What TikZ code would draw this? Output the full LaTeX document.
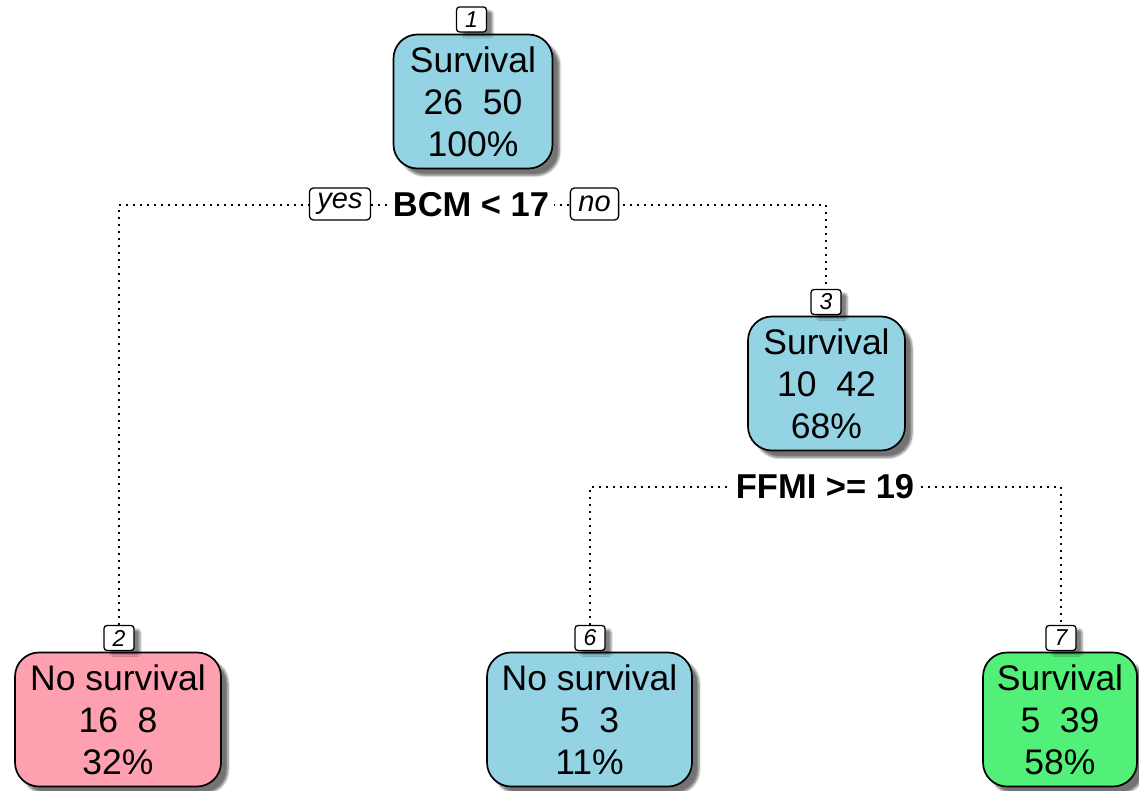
\documentclass[tikz,border=0pt]{standalone}
\usepackage{fontspec}
\setmainfont{Liberation Sans}
\usetikzlibrary{shadows.blur,backgrounds}
\definecolor{leafblue}{RGB}{147,211,228}
\definecolor{leafpink}{RGB}{255,160,176}
\definecolor{leafgreen}{RGB}{82,240,120}
\tikzset{
  treenode/.style={draw, line width=1.7pt, rounded corners=24pt,
    minimum height=134pt, inner sep=0pt, align=center,
    font=\fontsize{35.5}{42}\selectfont,
    blur shadow={shadow xshift=7pt, shadow yshift=-7pt,
      shadow blur steps=6, shadow opacity=55}},
  idbox/.style={draw, fill=white, line width=1.3pt, rounded corners=3pt,
    minimum width=30pt, minimum height=25pt, inner sep=0pt,
    font=\fontsize{23}{23}\selectfont\itshape,
    blur shadow={shadow xshift=6pt, shadow yshift=-4pt,
      shadow blur steps=4, shadow opacity=50}},
  splitlabel/.style={fill=white, inner sep=5pt,
    font=\fontsize{34.5}{34.5}\selectfont\bfseries},
  dirlabel/.style={draw, fill=white, line width=1.3pt, rounded corners=4pt,
    minimum height=32pt, inner xsep=8pt, inner ysep=0pt,
    font=\fontsize{29}{29}\selectfont\itshape},
  edge/.style={line width=2pt, dash pattern=on 2pt off 5pt}
}
\begin{document}
\begin{tikzpicture}[x=1pt,y=-1pt]
\useasboundingbox (0,0) rectangle (1139,791);

% tree nodes
\node[treenode, fill=leafblue, minimum width=159pt] (n1) at (473,101.5)
  {Survival\\26\ \ 50\\100\%};
\node[treenode, fill=leafblue, minimum width=157pt] (n3) at (826.5,383.5)
  {Survival\\10\ \ 42\\68\%};
\node[treenode, fill=leafpink, minimum width=206pt] (n2) at (118,719.5)
  {No survival\\16\ \ 8\\32\%};
\node[treenode, fill=leafblue, minimum width=205pt] (n6) at (589.5,719.5)
  {No survival\\5\ \ 3\\11\%};
\node[treenode, fill=leafgreen, minimum width=154pt] (n7) at (1060,719.5)
  {Survival\\5\ \ 39\\58\%};

% node numbers
\node[idbox] (id1) at (471.5,19.5) {1};
\node[idbox] (id3) at (826,302) {3};
\node[idbox] (id2) at (119,638) {2};
\node[idbox] (id6) at (590,638) {6};
\node[idbox] (id7) at (1061,638) {7};

% split labels
\node[splitlabel] (s1) at (471,205) {BCM < 17};
\node[splitlabel] (s3) at (825,487) {FFMI >= 19};
\node[dirlabel] (yes) at (340,204) {yes};
\node[dirlabel] (no) at (594.5,204) {no};

% branches
\begin{pgfonlayer}{background}
\draw[edge] (id2.north) |- (s1.center) -| (id3.north);
\draw[edge] (id6.north) |- (s3.center) -| (id7.north);
\end{pgfonlayer}
\end{tikzpicture}
\end{document}
